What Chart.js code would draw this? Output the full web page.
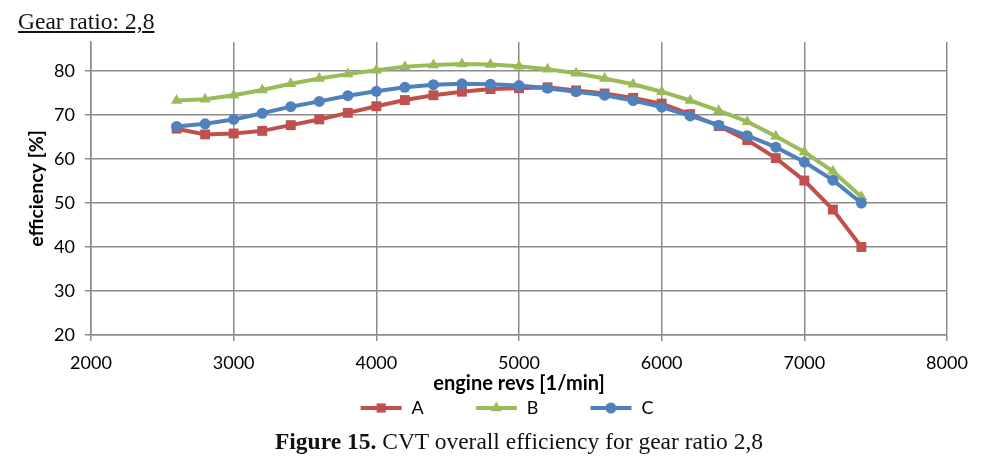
<!DOCTYPE html>
<html>
<head>
<meta charset="utf-8">
<script src="https://cdn.jsdelivr.net/npm/chart.js@4.4.1/dist/chart.umd.min.js"></script>
<style>
  html, body { margin: 0; padding: 0; background: #fff; }
  #wrap { position: relative; width: 1000px; height: 465px; overflow: hidden; }
  #chartBox { position: absolute; left: 0; top: 0; width: 1000px; height: 465px; }
  .gear { position: absolute; left: 18px; top: 8px; font-family: "Liberation Serif", serif; font-size: 23.5px; text-decoration: underline; color: #111; }
  .caption { position: absolute; left: 0; width: 1038px; top: 428px; text-align: center; font-family: "Liberation Serif", serif; font-size: 23.5px; color: #111; }
</style>
</head>
<body>
<div id="wrap">
  <div id="chartBox"><canvas id="myChart"></canvas></div>
  <div class="gear">Gear ratio: 2,8</div>
  <div class="caption"><b>Figure 15.</b> CVT overall efficiency for gear ratio 2,8</div>
</div>
<script>
// engine revs [1/min]
var revs = [2600, 2800, 3000, 3200, 3400, 3600, 3800, 4000, 4200, 4400, 4600, 4800, 5000,
            5200, 5400, 5600, 5800, 6000, 6200, 6400, 6600, 6800, 7000, 7200, 7400];
// efficiency [%]
var effA = [66.9, 65.6, 65.8, 66.4, 67.7, 69.0, 70.5, 72.0, 73.4, 74.5, 75.3, 75.9, 76.1,
            76.3, 75.6, 74.9, 73.9, 72.6, 70.2, 67.5, 64.3, 60.2, 55.1, 48.5, 40.0];
var effB = [73.3, 73.6, 74.5, 75.7, 77.1, 78.3, 79.3, 80.2, 81.0, 81.4, 81.6, 81.5, 81.1,
            80.4, 79.5, 78.3, 77.0, 75.3, 73.3, 71.0, 68.5, 65.2, 61.6, 57.2, 51.4];
var effC = [67.4, 68.0, 69.0, 70.4, 71.9, 73.1, 74.4, 75.4, 76.3, 76.9, 77.1, 77.0, 76.7,
            76.1, 75.3, 74.5, 73.3, 71.8, 69.8, 67.7, 65.3, 62.7, 59.3, 55.2, 50.0];
var seriesNames = ['A', 'B', 'C'];
var xTicks = [2000, 3000, 4000, 5000, 6000, 7000, 8000];
var yTicks = [20, 30, 40, 50, 60, 70, 80];

var colors = ['#C0504D', '#9BBB59', '#4F81BD'];
var markers = ['rect', 'triangle', 'circle'];
var radii = [7, 6.5, 5.5];
var gridColor = '#8c8c8c';
var axisFont = 'Lato, "Open Sans", sans-serif';

// line + marker picture for the legend (blank space on the left spreads the items out)
var iconW = 88;
function legendIcon(color, style, r) {
  var c = document.createElement('canvas');
  c.width = iconW; c.height = 14;
  var g = c.getContext('2d');
  g.strokeStyle = color; g.lineWidth = 4;
  g.beginPath(); g.moveTo(iconW - 42, 7); g.lineTo(iconW - 1, 7); g.stroke();
  g.fillStyle = color;
  Chart.helpers.drawPoint(g, { pointStyle: style, radius: Math.min(r, 6.5), borderWidth: 0 }, iconW - 21.5, 7);
  return c;
}

function points(vals) {
  return revs.map(function(x, i) { return { x: x, y: vals[i] }; });
}

var allVals = [effA, effB, effC];
var datasets = seriesNames.map(function(name, i) {
  return {
    label: name,
    data: points(allVals[i]),
    borderColor: colors[i],
    backgroundColor: colors[i],
    borderWidth: 4,
    pointStyle: markers[i],
    pointRadius: radii[i],
    pointBorderWidth: 0,
    pointBackgroundColor: colors[i],
    order: 3 - i,
    tension: 0
  };
});

var ctx = document.getElementById('myChart');
new Chart(ctx, {
  type: 'line',
  data: { datasets: datasets },
  options: {
    responsive: true,
    maintainAspectRatio: false,
    animation: false,
    layout: { padding: { top: 42, right: 53, left: 21, bottom: 38 } },
    plugins: {
      tooltip: { enabled: false },
      legend: {
        position: 'bottom',
        labels: {
          usePointStyle: true,
          pointStyleWidth: iconW,
          padding: 6,
          color: '#000',
          font: { family: axisFont, size: 18 },
          sort: function(a, b) { return a.datasetIndex - b.datasetIndex; },
          generateLabels: function(chart) {
            return chart.data.datasets.map(function(ds, i) {
              return {
                text: ds.label,
                datasetIndex: i,
                pointStyle: legendIcon(colors[i], markers[i], radii[i]),
                fillStyle: colors[i],
                strokeStyle: colors[i],
                lineWidth: 0,
                fontColor: '#000'
              };
            });
          }
        }
      }
    },
    scales: {
      x: {
        type: 'linear',
        min: 2000,
        max: 8000,
        afterFit: function(s) { s.height = 58; },
        afterBuildTicks: function(s) { s.ticks = xTicks.map(function(v) { return { value: v }; }); },
        grid: { color: gridColor, lineWidth: 1.5, tickLength: 6 },
        border: { color: gridColor, width: 1.5 },
        ticks: { color: '#000', padding: 11, maxRotation: 0, font: { family: axisFont, size: 18 },
                 callback: function(v) { return String(v); } },
        title: { display: true, text: 'engine revs [1/min]', color: '#000', padding: { top: 0, bottom: -3 },
                 font: { family: axisFont, size: 20, weight: 'bold' } }
      },
      y: {
        min: 20,
        max: 86.6,
        afterFit: function(s) { s.width = 70; },
        afterBuildTicks: function(s) { s.ticks = yTicks.map(function(v) { return { value: v }; }); },
        grid: { color: gridColor, lineWidth: 1.5, tickLength: 6 },
        border: { color: gridColor, width: 1.5 },
        ticks: { color: '#000', padding: 10, font: { family: axisFont, size: 18 } },
        title: { display: true, text: 'efficiency [%]', color: '#000', padding: { top: 4, bottom: 0 },
                 font: { family: axisFont, size: 19.5, weight: 'bold' } }
      }
    }
  }
});
</script>
</body>
</html>
